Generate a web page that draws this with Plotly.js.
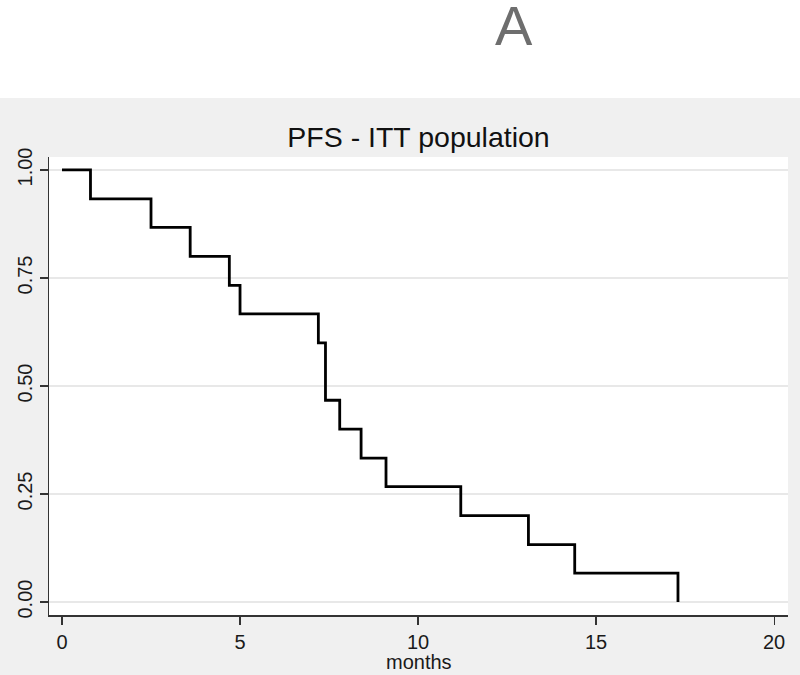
<!DOCTYPE html>
<html>
<head>
<meta charset="utf-8">
<script src="https://cdn.plot.ly/plotly-3.0.1.min.js"></script>
<style>html,body{margin:0;padding:0;background:#fff;}#chart{width:800px;height:675px;}</style>
</head>
<body>
<div id="chart"></div>
<script>
// Kaplan-Meier PFS estimates (months, survival probability)
var months = [0, 0.8, 2.5, 3.6, 4.7, 5.0, 7.2, 7.4, 7.8, 8.4, 9.1, 11.2, 13.1, 14.4, 17.3];
var survival = [1.000, 0.933, 0.867, 0.800, 0.733, 0.667, 0.600, 0.467, 0.400, 0.333, 0.267, 0.200, 0.133, 0.067, 0.000];
var xTicks = [0, 5, 10, 15, 20];
var yTicks = [0, 0.25, 0.5, 0.75, 1];
var yTickText = ['0.00', '0.25', '0.50', '0.75', '1.00'];
var panelLabel = 'A';
var chartTitle = 'PFS - ITT population';
var xTitle = 'months';

var FONT = 'Liberation Sans, Arial, sans-serif';

var trace = {
  x: months,
  y: survival,
  type: 'scatter',
  mode: 'lines',
  line: {shape: 'hv', color: '#000000', width: 2.8},
  hoverinfo: 'skip',
  showlegend: false
};

var layout = {
  width: 800,
  height: 675,
  margin: {l: 49, r: 12, t: 157, b: 60},
  paper_bgcolor: '#f0f0f0',
  plot_bgcolor: '#ffffff',
  font: {family: FONT, size: 20, color: '#1a1a1a'},
  title: {
    text: chartTitle,
    font: {family: FONT, size: 28.5, color: '#111111'},
    xref: 'paper', x: 0.5, xanchor: 'center',
    yref: 'container', y: 1 - 137 / 675, yanchor: 'middle'
  },
  xaxis: {
    range: [-0.365, 20.39],
    tickvals: xTicks,
    ticks: 'outside', ticklen: 8, tickwidth: 1.2, tickcolor: '#333333',
    showline: true, linecolor: '#333333', linewidth: 1.5,
    showgrid: false, zeroline: false,
    tickfont: {family: FONT, size: 20, color: '#1a1a1a'}
  },
  yaxis: {
    range: [-0.03, 1.03],
    tickvals: yTicks,
    ticktext: yTickText,
    tickangle: -90,
    ticks: 'outside', ticklen: 8, tickwidth: 1.2, tickcolor: '#333333',
    showline: true, linecolor: '#333333', linewidth: 1.5,
    showgrid: true, gridcolor: '#e8e8e8', gridwidth: 1.5,
    zeroline: false,
    tickfont: {family: FONT, size: 20, color: '#1a1a1a'}
  },
  shapes: [{
    type: 'rect', xref: 'paper', yref: 'paper',
    x0: -0.2, x1: 1.2, y0: (615 - 98) / 458, y1: 1.5,
    fillcolor: '#ffffff', line: {width: 0}, layer: 'below'
  }],
  annotations: [{
    text: panelLabel,
    xref: 'paper', yref: 'paper',
    x: (513.5 - 49) / 739, y: (615 - 25) / 458,
    xanchor: 'center', yanchor: 'middle',
    showarrow: false,
    font: {family: FONT, size: 56, color: '#6e6e6e'}
  }, {
    text: xTitle,
    xref: 'paper', yref: 'paper',
    x: 0.5, y: (615 - 662) / 458,
    xanchor: 'center', yanchor: 'middle',
    showarrow: false,
    font: {family: FONT, size: 20, color: '#1a1a1a'}
  }]
};

Plotly.newPlot('chart', [trace], layout, {displayModeBar: false, staticPlot: true});
</script>
</body>
</html>
